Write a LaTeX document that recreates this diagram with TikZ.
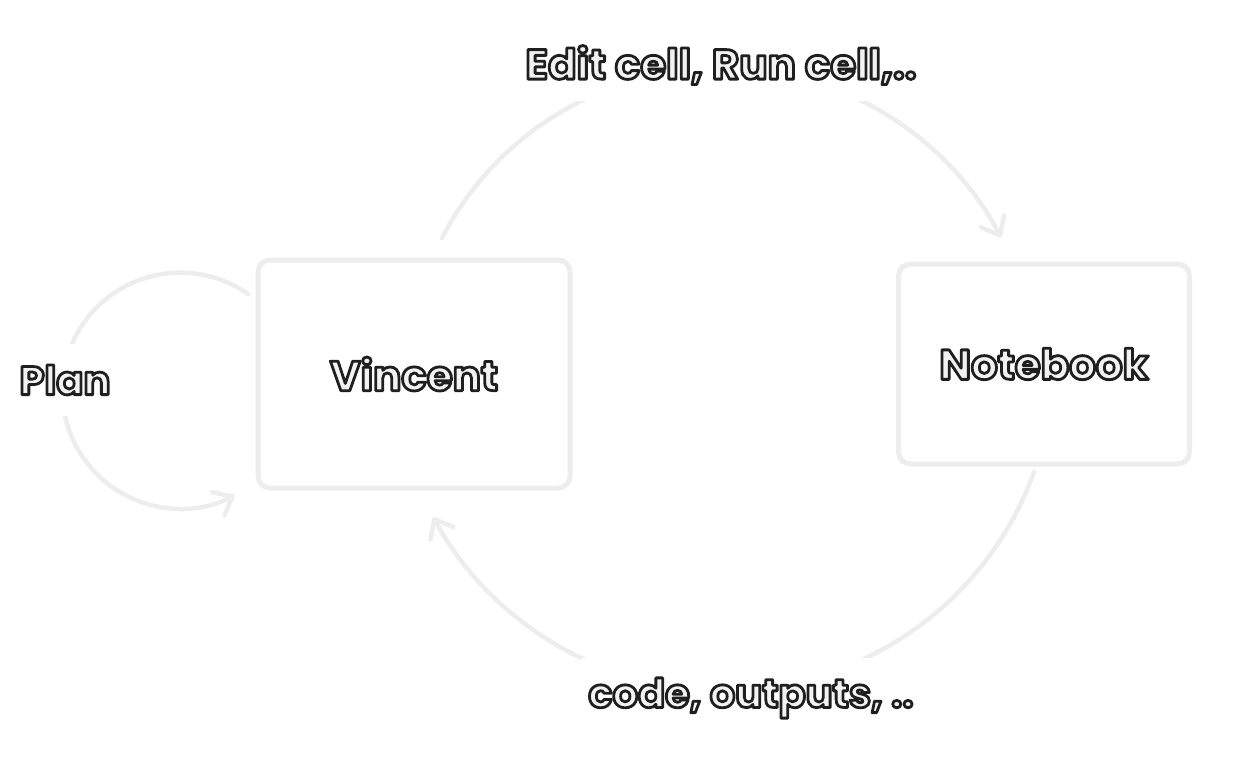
\documentclass[tikz,border=0pt]{standalone}
\usepackage{fontspec}
\setmainfont{Poppins}
\usetikzlibrary{arrows.meta}

\definecolor{sketch}{HTML}{EDEDED}
\definecolor{textfill}{HTML}{F2F2F2}
\newcommand{\sketchtext}[1]{\textcolor{textfill}{%
    \special{pdf:literal direct 2 Tr 2.8 w 1 j 0.12 0.12 0.12 RG}#1\special{pdf:literal direct 0 Tr}}}

\begin{document}
\begin{tikzpicture} [
        x=1pt, y=1pt,
        box/.style={draw=sketch, line width=5pt, rounded corners=12pt, align=center,
            font=\fontsize{42}{50}\selectfont\bfseries},
        flow/.style={draw=sketch, line width=4.5pt, line cap=round,
            -{Straight Barb[length=16pt, width=26pt, round]}},
        tag/.style={fill=white, inner sep=0pt, align=center},
        font=\fontsize{40}{48}\selectfont\bfseries ]
    \useasboundingbox (0,0) rectangle (1255,-762);
    \node[box, minimum width=312pt, minimum height=228pt] (vincent) at (414,-374) {\sketchtext{Vincent}};
    \node[box, minimum width=291pt, minimum height=200pt] (notebook) at (1044,-364) {\sketchtext{Notebook}};
    % Vincent -> Notebook
    \coordinate (ask) at (442,-238);
    \draw[flow] (ask) arc[start angle=152.6, end angle=27.5, radius=315];
    \node[tag, minimum width=400pt, minimum height=72pt, font=\fontsize{42}{50}\selectfont\bfseries]
        (actions) at (721,-65) {\sketchtext{Edit cell, Run cell,..}};
    % Notebook -> Vincent
    \coordinate (reply) at (1034,-472);
    \draw[flow] (reply) arc[start angle=-19.8, end angle=-151.6, radius=330];
    \node[tag, minimum width=340pt, minimum height=80pt] (results) at (751,-698) {\sketchtext{code, outputs, ..}};
    % Vincent -> Vincent
    \coordinate (think) at (248,-294);
    \draw[flow] (think) arc[start angle=55, end angle=297.4, radius=118];
    \node[tag, minimum width=96pt, minimum height=72pt] (plan) at (65,-380) {\sketchtext{Plan}};
\end{tikzpicture}
\end{document}
